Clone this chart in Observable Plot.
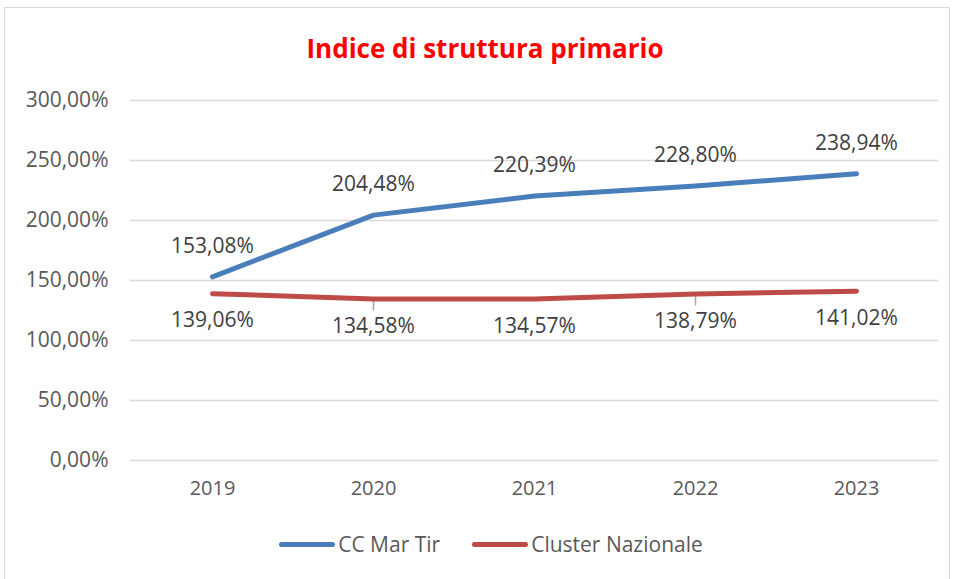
<!DOCTYPE html>
<html>
<head>
<meta charset="utf-8">
<script src="https://cdn.jsdelivr.net/npm/d3@7"></script>
<script src="https://cdn.jsdelivr.net/npm/@observablehq/plot@0.6"></script>
<style>
  html, body { margin: 0; padding: 0; background: #fff; }
  #wrap { position: relative; width: 955px; height: 579px; overflow: hidden; font-family: "Open Sans", sans-serif; }
  #frame { position: absolute; left: 4px; top: 7px; width: 946px; height: 580px; border: 1px solid #d9d9d9; box-sizing: border-box; }
  #title { position: absolute; left: 0; width: 970px; top: 30px; text-align: center; color: #ff0000; font-weight: bold; font-size: 26px; line-height: 36px; }
  #chart { position: absolute; left: 0; top: 0; }
  #legend { position: absolute; top: 529px; left: 0; width: 955px; display: flex; justify-content: center; font-size: 21px; line-height: 30px; color: #595959; padding-left: 27px; box-sizing: border-box; }
  .item { display: flex; align-items: center; margin: 0 16px; }
  .swatch { width: 56px; height: 5px; border-radius: 3px; margin-right: 3px; }
</style>
</head>
<body>
<div id="wrap">
  <div id="frame"></div>
  <div id="chart"></div>
  <div id="title">Indice di struttura primario</div>
  <div id="legend"></div>
</div>
<script>
const years = ["2019", "2020", "2021", "2022", "2023"];
const ccMarTir = [153.08, 204.48, 220.39, 228.80, 238.94];
const clusterNazionale = [139.06, 134.58, 134.57, 138.79, 141.02];
const yTicks = [0, 50, 100, 150, 200, 250, 300];
const seriesNames = ["CC Mar Tir", "Cluster Nazionale"];
const seriesColors = ["#4A7EBB", "#BE4B48"];
const leaderYears = ["2020", "2022"];

const fmt = v => v.toFixed(2).replace(".", ",") + "%";

const rows = [];
years.forEach((y, i) => {
  rows.push({year: y, value: ccMarTir[i], series: seriesNames[0]});
  rows.push({year: y, value: clusterNazionale[i], series: seriesNames[1]});
});
const blue = rows.filter(d => d.series === seriesNames[0]);
const red = rows.filter(d => d.series === seriesNames[1]);
const leaders = red.filter(d => leaderYears.includes(d.year));

const chart = Plot.plot({
  width: 955,
  height: 500,
  marginTop: 100,
  marginBottom: 40,
  marginLeft: 130,
  marginRight: 17,
  style: {fontFamily: "'Open Sans', sans-serif", background: "transparent"},
  x: {type: "point", domain: years, padding: 0.5, label: null},
  y: {domain: [0, 300], label: null},
  marks: [
    Plot.gridY(yTicks, {stroke: "#d9d9d9", strokeOpacity: 1, strokeWidth: 1.3}),
    Plot.axisY(yTicks, {tickSize: 0, tickPadding: 22, tickFormat: fmt, fontSize: 21, fill: "#595959", label: null}),
    Plot.axisX(years, {tickSize: 0, tickPadding: 20, fontSize: 20, fill: "#595959", label: null}),
    Plot.ruleX(leaders, {x: "year", y1: "value", y2: d => d.value - 10, stroke: "#a6a6a6", strokeWidth: 1.5}),
    Plot.line(blue, {x: "year", y: "value", stroke: seriesColors[0], strokeWidth: 5, strokeLinecap: "round"}),
    Plot.line(red, {x: "year", y: "value", stroke: seriesColors[1], strokeWidth: 5, strokeLinecap: "round"}),
    Plot.text(blue, {x: "year", y: "value", text: d => fmt(d.value), dy: -31, fontSize: 21, fill: "#404040"}),
    Plot.text(red, {x: "year", y: "value", text: d => fmt(d.value), dy: 27, fontSize: 21, fill: "#404040"})
  ]
});
document.getElementById("chart").appendChild(chart);

const legend = document.getElementById("legend");
seriesNames.forEach((n, i) => {
  const it = document.createElement("div");
  it.className = "item";
  const sw = document.createElement("div");
  sw.className = "swatch";
  sw.style.background = seriesColors[i];
  const tx = document.createElement("span");
  tx.textContent = n;
  it.appendChild(sw); it.appendChild(tx);
  legend.appendChild(it);
});
</script>
</body>
</html>
